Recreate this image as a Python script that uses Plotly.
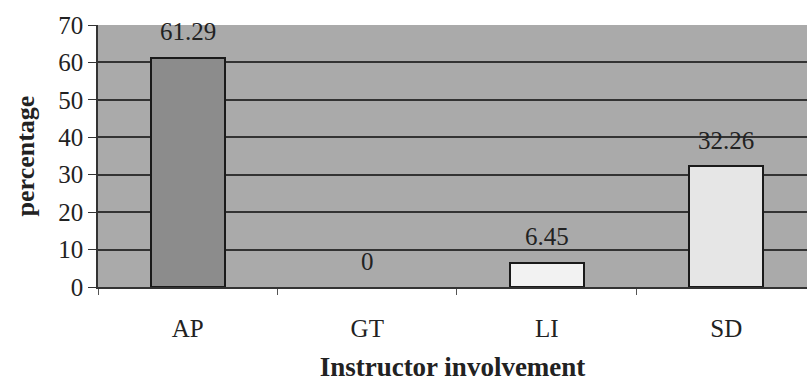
import plotly.graph_objects as go

categories = ["AP", "GT", "LI", "SD"]
values = [61.29, 0, 6.45, 32.26]
value_labels = ["61.29", "0", "6.45", "32.26"]
bar_colors = ["#8c8c8c", "#a9a9a9", "#f2f2f2", "#e6e6e6"]
bar_edges = [2, 0, 2, 2]
y_ticks = [0, 10, 20, 30, 40, 50, 60, 70]

fig = go.Figure()
fig.add_trace(go.Bar(
    x=categories, y=values, width=0.41,
    marker=dict(color=bar_colors, line=dict(color="#1a1a1a", width=bar_edges)),
    showlegend=False,
))
for c, v, t in zip(categories, values, value_labels):
    fig.add_annotation(x=c, y=v, text=t, showarrow=False, yshift=26,
                       font=dict(family="Liberation Serif", size=25, color="#222"))

fig.update_layout(
    width=807, height=384,
    margin=dict(l=98, r=0, t=25, b=97),
    paper_bgcolor="white", plot_bgcolor="#aaaaaa",
    font=dict(family="Liberation Serif", color="#222"),
    bargap=0,
)
fig.update_xaxes(
    type="category", range=[-0.5, 3.45],
    tickson="boundaries", ticks="outside", ticklen=6, tickcolor="#555",
    tickfont=dict(size=25), ticklabelstandoff=18,
    showline=True, linecolor="#333", linewidth=1.5, showgrid=False,
    title=dict(text="<b>Instructor involvement</b>", font=dict(size=27), standoff=16),
)
fig.update_yaxes(
    range=[0, 70], tickvals=y_ticks, ticks="outside", ticklen=8, tickcolor="#333",
    tickfont=dict(size=25), showline=True, linecolor="#333", linewidth=1.5,
    showgrid=True, gridcolor="#333333", gridwidth=1.8, zeroline=False,
    title=dict(text="<b>percentage</b>", font=dict(size=26), standoff=16),
)
fig.write_html("out.html")
